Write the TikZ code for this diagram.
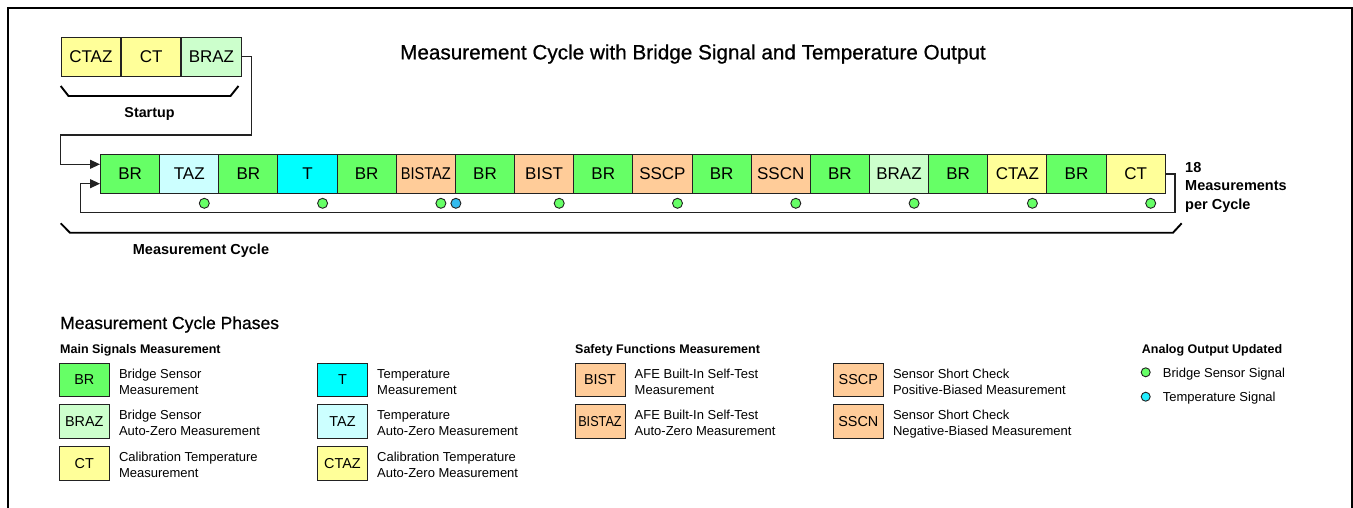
\documentclass[tikz,border=0pt]{standalone}
\usepackage{fontspec}
\usepackage{graphicx}
\setmainfont{Liberation Sans}
\newfontfamily\medfont{Liberation Sans}[FakeBold=0.7]
\usetikzlibrary{arrows.meta,calc}
\definecolor{cBR}{HTML}{66FF66}
\definecolor{cTAZ}{HTML}{CCFFFF}
\definecolor{cT}{HTML}{00FFFF}
\definecolor{cSF}{HTML}{FFCC99}
\definecolor{cBRAZ}{HTML}{CCFFCC}
\definecolor{cCT}{HTML}{FFFF99}
\definecolor{cDotB}{HTML}{33BBEE}
\definecolor{cDotT}{HTML}{22EEFF}
\definecolor{cLine}{HTML}{222222}
\begin{document}
\begin{tikzpicture}[x=1pt,y=-1pt,
  phase/.style={draw=cLine,line width=1pt,minimum width=59.15pt,minimum height=38.6pt,inner sep=0pt,anchor=west,font=\fontsize{17}{18}\selectfont},
  lbox/.style={draw=cLine,line width=1pt,minimum width=50pt,minimum height=33.4pt,inner sep=0pt,font=\fontsize{14.4}{16}\selectfont},
  desc/.style={anchor=base west,align=left,inner sep=0pt,font=\fontsize{13}{16}\selectfont},
  head/.style={anchor=base west,inner sep=0pt,font=\bfseries\fontsize{12.5}{15}\selectfont},
  gdot/.style={circle,draw=cLine,line width=0.9pt,fill=cBR,minimum size=10pt,inner sep=0pt},
  conn/.style={draw=cLine,line width=1.2pt,-{Triangle[length=10pt,width=9pt]}},
  brk/.style={draw=black,line width=1.9pt}
]
\useasboundingbox (0,0) rectangle (1353,508);
% frame
\draw[line width=2.4pt] (7.8,508) -- (7.8,7.8) -- (1351.8,7.8) -- (1351.8,508);

% title
\node[anchor=base,inner sep=0pt,font=\medfont\fontsize{20.7}{24}\selectfont] (title) at (693,59.4)
  {Measurement Cycle with Bridge Signal and Temperature Output};

% startup
\node[phase,fill=cCT,minimum width=59.3pt,minimum height=39pt] (s1) at (60.7,56.8) {CTAZ};
\node[phase,fill=cCT,minimum width=59.3pt,minimum height=39pt] (s2) at (s1.east) {CT};
\node[phase,fill=cBRAZ,minimum width=59.3pt,minimum height=39pt] (s3) at (s2.east) {BRAZ};
\draw[brk] (60.7,86) -- (68.5,96) -- (230.5,96) -- (238.5,86);
\node[anchor=base,inner sep=0pt,font=\bfseries\fontsize{14.3}{17}\selectfont] (startup) at (149.5,118) {Startup};

% main cycle
\foreach \lab/\col [count=\i] in {BR/cBR,TAZ/cTAZ,BR/cBR,T/cT,BR/cBR,{\scalebox{0.86}[1]{BISTAZ}}/cSF,BR/cBR,BIST/cSF,BR/cBR,SSCP/cSF,BR/cBR,SSCN/cSF,BR/cBR,BRAZ/cBRAZ,BR/cBR,CTAZ/cCT,BR/cBR,CT/cCT}
  \node[phase,fill=\col] (m\i) at (100+59.15*\i-59.15,174) {\lab};

% dots
\foreach \k in {2,4,...,18}
  \node[gdot] (g\k) at ($(m\k.east)+(-15,29.3)$) {};
\node[gdot,fill=cDotB] (bt) at ($(m6.east)+(0,29.3)$) {};

% connectors
\coordinate (in1) at ($(m1.west)+(0,-9.7)$);
\coordinate (in2) at ($(m1.west)+(0,9.7)$);
\draw[conn] (s3.east) -- ++(9.5,0) -- ++(0,78.2) -| ($(in1)+(-39.3,0)$) -- (in1);
\draw[conn] (m18.east) -- ++(9.3,0) |- ($(in2)+(-19.3,29)$) |- (in2);

% cycle bracket
\draw[brk] (60.7,223.3) -- (70,232.7) -- (1173,232.7) -- (1181.7,223.3);
\node[anchor=base,inner sep=0pt,font=\bfseries\fontsize{14.5}{17}\selectfont] (mc) at (201,254.5) {Measurement Cycle};
\node[anchor=base west,align=left,inner sep=0pt,font=\bfseries\fontsize{14.5}{18.3}\selectfont] (cnt) at (1185,209.2) {18\\Measurements\\per Cycle};

% legend
\node[anchor=base west,inner sep=0pt,font=\medfont\fontsize{17.5}{20}\selectfont] (lh) at (60,329) {Measurement Cycle Phases};
\node[head] (h1) at (60,353.5) {Main Signals Measurement};
\node[head] (h2) at (575,353.5) {Safety Functions Measurement};
\node[head] (h3) at (1141.7,353.5) {Analog Output Updated};

\node[lbox,fill=cBR] (l1) at (84.3,380) {BR};
\node[lbox,fill=cBRAZ] (l2) at (84.3,421.5) {BRAZ};
\node[lbox,fill=cCT] (l3) at (84.3,463.3) {CT};
\node[lbox,fill=cT] (l4) at (342.5,380) {T};
\node[lbox,fill=cTAZ] (l5) at (342.5,421.5) {TAZ};
\node[lbox,fill=cCT] (l6) at (342.5,463.3) {CTAZ};
\node[lbox,fill=cSF] (l7) at (600,380) {BIST};
\node[lbox,fill=cSF] (l8) at (600,421.5) {\scalebox{0.88}[1]{BISTAZ}};
\node[lbox,fill=cSF] (l9) at (858.3,380) {SSCP};
\node[lbox,fill=cSF] (l10) at (858.3,421.5) {SSCN};

\node[desc] (t1) at ($(l1.east)+(9,14)$) {Bridge Sensor\\Measurement};
\node[desc] (t2) at ($(l2.east)+(9,14)$) {Bridge Sensor\\Auto-Zero Measurement};
\node[desc] (t3) at ($(l3.east)+(9,14)$) {Calibration Temperature\\Measurement};
\node[desc] (t4) at ($(l4.east)+(9,14)$) {Temperature\\Measurement};
\node[desc] (t5) at ($(l5.east)+(9,14)$) {Temperature\\Auto-Zero Measurement};
\node[desc] (t6) at ($(l6.east)+(9,14)$) {Calibration Temperature\\Auto-Zero Measurement};
\node[desc] (t7) at ($(l7.east)+(9,14)$) {AFE Built-In Self-Test\\Measurement};
\node[desc] (t8) at ($(l8.east)+(9,14)$) {AFE Built-In Self-Test\\Auto-Zero Measurement};
\node[desc] (t9) at ($(l9.east)+(9,14)$) {Sensor Short Check\\Positive-Biased Measurement};
\node[desc] (t10) at ($(l10.east)+(9,14)$) {Sensor Short Check\\Negative-Biased Measurement};

\node[gdot,minimum size=9pt] (ld1) at (1145.7,372.3) {};
\node[gdot,minimum size=9pt,fill=cDotT] (ld2) at (1145.7,396.7) {};
\node[desc] (lt1) at (1162.7,377) {Bridge Sensor Signal};
\node[desc] (lt2) at (1162.7,401.4) {Temperature Signal};
\end{tikzpicture}
\end{document}
